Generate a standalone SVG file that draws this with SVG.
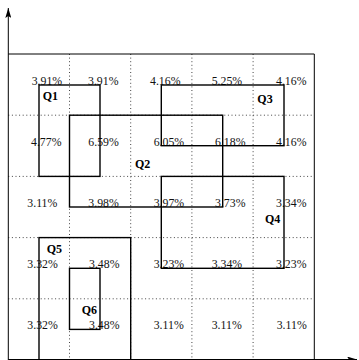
<svg xmlns="http://www.w3.org/2000/svg" width="359" height="360" viewBox="0 0 359 360">
<defs>
<style>
.grid{stroke:#444;stroke-width:1;stroke-dasharray:1 2.6;fill:none}
.frame{stroke:#000;stroke-width:1;fill:none}
.q{stroke:#000;stroke-width:1.4;fill:none}
.pct{font-family:"Liberation Serif",serif;font-size:11.8px;fill:#111}
.lbl{font-family:"Liberation Serif",serif;font-size:12px;font-weight:bold;fill:#000}
</style>
<marker id="ah" viewBox="0 0 10 6" refX="10" refY="3" markerWidth="10" markerHeight="6" markerUnits="userSpaceOnUse" orient="auto">
<path d="M0,0 L10,3 L0,6 L2,3 Z" fill="#000"/>
</marker>
</defs>
<rect width="359" height="360" fill="#fff"/>
<g id="grid">
<line class="grid" x1="69.5" y1="54" x2="69.5" y2="360"/>
<line class="grid" x1="130.7" y1="54" x2="130.7" y2="360"/>
<line class="grid" x1="191.9" y1="54" x2="191.9" y2="360"/>
<line class="grid" x1="253.1" y1="54" x2="253.1" y2="360"/>
<line class="grid" x1="8.3" y1="115.2" x2="314.3" y2="115.2"/>
<line class="grid" x1="8.3" y1="176.4" x2="314.3" y2="176.4"/>
<line class="grid" x1="8.3" y1="237.6" x2="314.3" y2="237.6"/>
<line class="grid" x1="8.3" y1="298.8" x2="314.3" y2="298.8"/>
</g>
<g id="axes">
<line class="frame" x1="8.3" y1="360" x2="8.3" y2="8" marker-end="url(#ah)"/>
<line class="frame" x1="8.3" y1="359.5" x2="357" y2="359.5" marker-end="url(#ah)"/>
<line class="frame" x1="8.3" y1="54" x2="314.3" y2="54"/>
<line class="frame" x1="314.3" y1="54" x2="314.3" y2="360"/>
</g>
<g id="percentages">
<text class="pct" x="31.7" y="84.5">3.91%</text>
<text class="pct" x="88" y="84.5">3.91%</text>
<text class="pct" x="150" y="84.5">4.16%</text>
<text class="pct" x="211.7" y="84.5">5.25%</text>
<text class="pct" x="276" y="84.5">4.16%</text>
<text class="pct" x="31" y="145.5">4.77%</text>
<text class="pct" x="88.3" y="145.5">6.59%</text>
<text class="pct" x="153.7" y="145.5">6.05%</text>
<text class="pct" x="215" y="145.5">6.18%</text>
<text class="pct" x="276" y="145.5">4.16%</text>
<text class="pct" x="27.3" y="206.5">3.11%</text>
<text class="pct" x="88.3" y="206.5">3.98%</text>
<text class="pct" x="153.7" y="206.5">3.97%</text>
<text class="pct" x="215" y="206.5">3.73%</text>
<text class="pct" x="276" y="206.5">3.34%</text>
<text class="pct" x="27.3" y="267.5">3.32%</text>
<text class="pct" x="89" y="267.5">3.48%</text>
<text class="pct" x="153.7" y="267.5">3.23%</text>
<text class="pct" x="211.7" y="267.5">3.34%</text>
<text class="pct" x="276" y="267.5">3.23%</text>
<text class="pct" x="27.3" y="329">3.32%</text>
<text class="pct" x="89" y="329">3.48%</text>
<text class="pct" x="153.7" y="329">3.11%</text>
<text class="pct" x="211.7" y="329">3.11%</text>
<text class="pct" x="276.7" y="329">3.11%</text>
</g>
<g id="Q1"><rect class="q" x="39" y="85" width="61" height="91.4"/><text class="lbl" x="42.7" y="100">Q1</text></g>
<g id="Q2"><rect class="q" x="69.5" y="115.2" width="153.2" height="91.8"/><text class="lbl" x="135" y="168.3">Q2</text></g>
<g id="Q3"><rect class="q" x="161.3" y="85" width="122.7" height="60.7"/><text class="lbl" x="257.3" y="103.3">Q3</text></g>
<g id="Q4"><rect class="q" x="161.3" y="176.4" width="122.7" height="91.9"/><text class="lbl" x="265" y="222.7">Q4</text></g>
<g id="Q5"><rect class="q" x="39" y="237.6" width="91.7" height="122.4"/><text class="lbl" x="46.7" y="252.7">Q5</text></g>
<g id="Q6"><rect class="q" x="69.5" y="268.3" width="30.5" height="61.1"/><text class="lbl" x="81.7" y="314">Q6</text></g>
</svg>
